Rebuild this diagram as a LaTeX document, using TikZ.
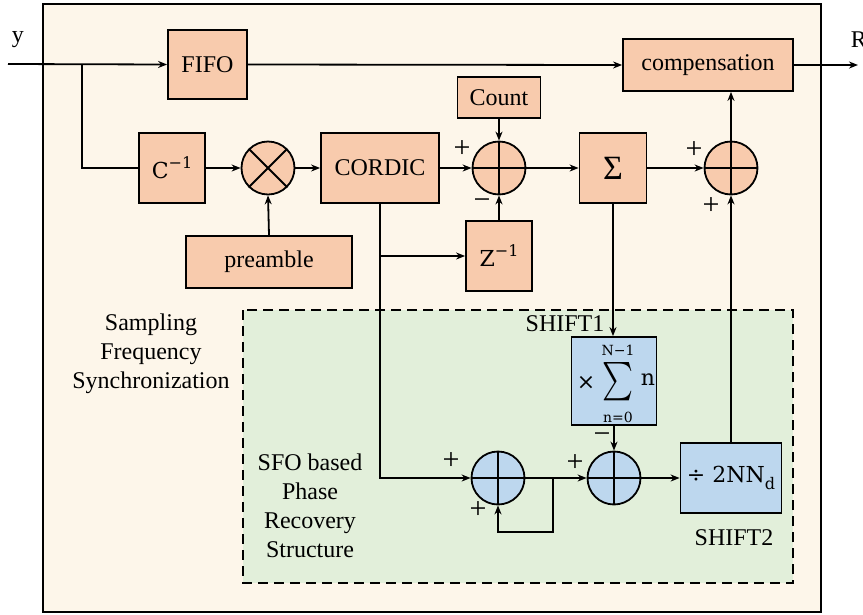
\documentclass[tikz,border=0pt]{standalone}
\usepackage{fontspec}
\usepackage{graphicx}
\setmainfont{Liberation Serif}
\newfontfamily\djv{DejaVu Serif}
\usetikzlibrary{arrows.meta,shapes.geometric}
\definecolor{bgc}{HTML}{FDF6EA}
\definecolor{orc}{HTML}{F8CBAD}
\definecolor{grc}{HTML}{E2EFDA}
\definecolor{blc}{HTML}{BDD7EE}
\begin{document}
\begin{tikzpicture}[x=1pt,y=-1pt,
  font=\fontsize{24}{29}\selectfont,
  line width=1.8pt,
  >={Stealth[length=9pt,width=7pt]},
  obox/.style={draw,fill=orc,rectangle,inner sep=0pt,align=center},
  bbox/.style={draw,fill=blc,rectangle,inner sep=0pt,align=center},
  sumc/.style={draw,circle,inner sep=0pt,minimum size=53pt},
  lab/.style={inner sep=0pt},
  sgn/.style={inner sep=0pt,font=\fontsize{30}{30}\selectfont},
  mfont/.style={font=\djv\fontsize{22}{26}\selectfont},
  lim/.style={inner sep=0pt,font=\djv\fontsize{14}{14}\selectfont}
]
\useasboundingbox (0,0) rectangle (863,614);
\draw[fill=bgc,line width=2pt] (43,4) rectangle (821,612);
\draw[fill=grc,dash pattern=on 10pt off 6pt] (243,310) rectangle (793,583);

% boxes
\node[obox,minimum width=79pt,minimum height=69pt] (fifo) at (207.5,64.5) {FIFO};
\node[obox,minimum width=170pt,minimum height=52pt] (comp) at (708,65) {compensation};
\node[obox,minimum width=83pt,minimum height=41pt] (count) at (499,97.5) {Count};
\node[obox,minimum width=66pt,minimum height=70pt,mfont] (cinv) at (172,168) {C\raisebox{0.45em}{\fontsize{16}{16}\selectfont −1}};
\node[sumc,fill=orc] (mul) at (268,168) {};
\node[obox,minimum width=118pt,minimum height=70pt] (cord) at (380,168) {CORDIC};
\node[sumc,fill=orc] (p1) at (499,168) {};
\node[obox,minimum width=67pt,minimum height=70pt,font=\fontsize{34}{34}\selectfont] (sig) at (613,168) {Σ};
\node[sumc,fill=orc] (p2) at (731,168) {};
\node[obox,minimum width=166pt,minimum height=52pt] (pre) at (269,262) {preamble};
\node[obox,minimum width=66pt,minimum height=70pt,mfont] (zinv) at (499,256) {Z\raisebox{0.45em}{\fontsize{16}{16}\selectfont −1}};

\node[bbox,minimum width=85pt,minimum height=88pt] (ls) at (614,381) {};
\node[lab,mfont] (ltimes) at (586,383) {×};
\node[lab] (lsum) at (617.5,384) {\resizebox*{31pt}{43pt}{$\sum$}};
\node[lab,mfont] (ln) at (648,380) {n};
\node[lim] (lup) at (618,350) {N−1};
\node[lim] (ldn) at (618,417) {n=0};

\node[sumc,fill=blc] (p3) at (498,478) {};
\node[sumc,fill=blc] (p4) at (614,478) {};
\node[bbox,minimum width=101pt,minimum height=70pt,mfont] (div) at (731,478) {÷ 2NN\raisebox{-0.3em}{\fontsize{16}{16}\selectfont d}};

% crosses
\foreach \c in {p1,p2,p3,p4}{
  \draw (\c.north) -- (\c.south) (\c.west) -- (\c.east);
}
\draw (mul.north west) -- (mul.south east) (mul.north east) -- (mul.south west);

% connectors
\coordinate (in) at (8,64);
\coordinate (br) at (82,64);
\coordinate (out) at (858,65);
\draw[->] (in) -- (fifo.west);
\draw (br) |- (cinv.west);
\draw[->] (cinv.east) -- (mul.west);
\draw[->] (pre.north) -- (mul.south);
\draw[->] (mul.east) -- (cord.west);
\draw[->] (cord.east) -- (p1.west);
\draw[->] (count.south) -- (p1.north);
\draw[->] (zinv.north) -- (p1.south);
\draw[->] (cord.south) |- (p3.west);
\draw[->] (cord.south |- zinv.west) -- (zinv.west);
\draw[->] (p1.east) -- (sig.west);
\draw[->] (sig.east) -- (p2.west);
\draw[->] (p2.north) -- (p2.north |- comp.south);
\draw[->] (fifo.east) -- (comp.west);
\draw[->] (comp.east) -- (out);
\draw[->] (sig.south) -- (sig.south |- ls.north);
\draw[->] (ls.south) -- (p4.north);
\draw[->] (p3.east) -- (p4.west);
\coordinate (lp) at (553,478);
\coordinate (lpb) at (553,532);
\draw[->] (lp) -- (lpb) -| (p3.south);
\draw[->] (p4.east) -- (div.west);
\draw[->] (div.north) -- (p2.south);

% labels
\node[lab] (ylab) at (18,40) {y};
\node[lab,anchor=west] (rlab) at (850,40) {R};
\node[sgn] (s1) at (462,149) {+};
\node[sgn] (s2) at (482,204) {−};
\node[sgn] (s3) at (694,150) {+};
\node[sgn] (s4) at (711,206) {+};
\node[sgn] (s5) at (451,461) {+};
\node[sgn] (s6) at (478,510) {+};
\node[sgn] (s7) at (575,463) {+};
\node[sgn] (s8) at (602,438) {−};
\node[lab] (sh1) at (565,324) {SHIFT1};
\node[lab] (sh2) at (734,538) {SHIFT2};
\node[lab,align=center] (sfs) at (151,354) {Sampling\\Frequency\\Synchronization};
\node[lab,align=center] (sfo) at (310,506) {SFO based\\Phase\\Recovery\\Structure};
\end{tikzpicture}
\end{document}
